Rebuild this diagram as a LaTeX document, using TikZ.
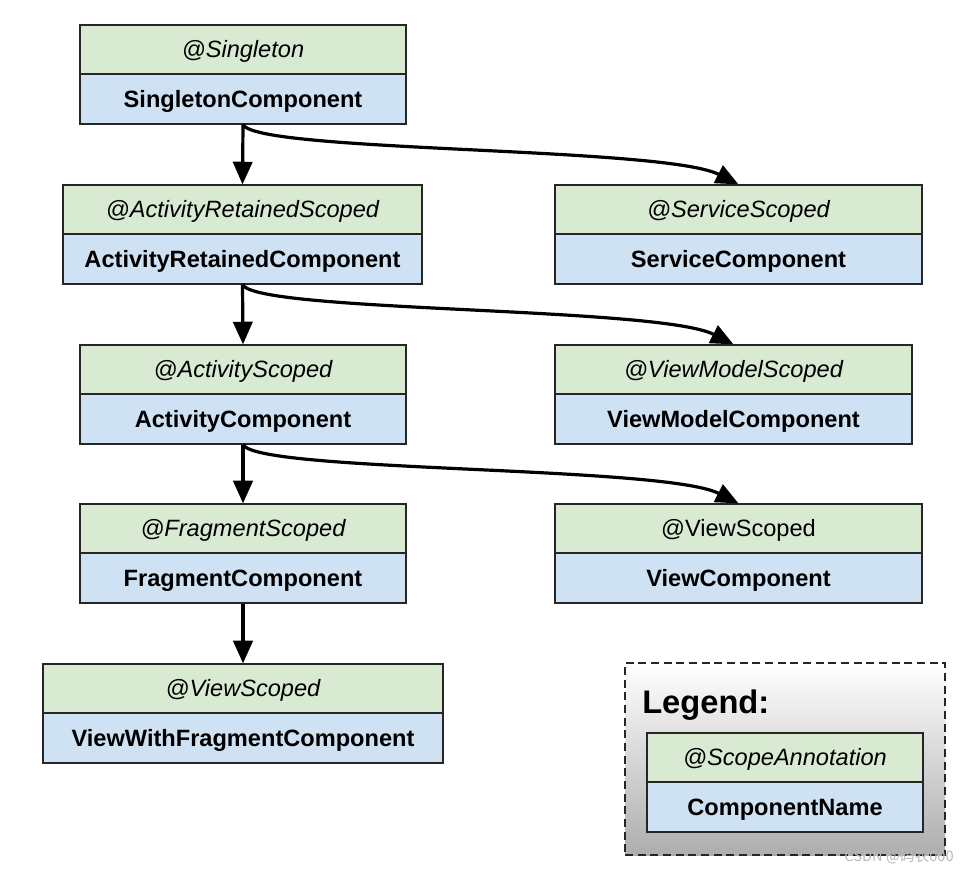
\documentclass[tikz,border=0pt]{standalone}
\usepackage{fontspec}
\setmainfont{Liberation Sans}
\newfontfamily\cjkfont{Noto Sans CJK SC}
\usetikzlibrary{arrows.meta}
\definecolor{scopegreen}{HTML}{D9EAD3}
\definecolor{compblue}{HTML}{CFE2F3}
\newcommand\mycomp[7]{%
  \node[scopebox, minimum width={(#3-#2)*0.75pt}] (#1S) at ({(#2+#3)/2}, #4+24.5) {#5#6};
  \node[compbox, minimum width={(#3-#2)*0.75pt}] (#1C) at ({(#2+#3)/2}, #4+74) {#7};
}
\begin{document}
\begin{tikzpicture}[x=0.75pt, y=-0.75pt,
  scopebox/.style={draw=black!85, line width=0.9pt, fill=scopegreen, inner sep=0pt,
    minimum height=36.75pt, text height=15.5pt, text depth=3pt,
    font=\fontsize{17.7pt}{20pt}\selectfont},
  compbox/.style={draw=black!85, line width=0.9pt, fill=compblue, inner sep=0pt,
    minimum height=37.5pt, text height=15.5pt, text depth=3pt,
    font=\fontsize{17.7pt}{20pt}\selectfont\bfseries},
  arr/.style={line width=2.4pt, -{Triangle[length=17pt,width=14.5pt]}},
  legendbox/.style={draw=black!85, line width=1pt, dash pattern=on 6pt off 3.5pt,
    top color=white, bottom color=black!32, inner sep=0pt}]
\useasboundingbox (0,0) rectangle (968,873);
% legend background
\node[legendbox, minimum width=240pt, minimum height=144pt] (legend) at (785,759) {};
\node[anchor=base west, inner sep=0pt, font=\fontsize{24.5pt}{28pt}\selectfont\bfseries] (legendtitle) at (642,713) {Legend:};
% components
\mycomp{sg}{80}{406}{25}{\itshape}{@Singleton}{SingletonComponent}
\mycomp{ar}{63}{422}{185}{\itshape}{@ActivityRetainedScoped}{ActivityRetainedComponent}
\mycomp{sv}{555}{922}{185}{\itshape}{@ServiceScoped}{ServiceComponent}
\mycomp{ac}{80}{406}{345}{\itshape}{@ActivityScoped}{ActivityComponent}
\mycomp{vm}{555}{912}{345}{\itshape}{@ViewModelScoped}{ViewModelComponent}
\mycomp{fr}{80}{406}{504}{\itshape}{@FragmentScoped}{FragmentComponent}
\mycomp{vw}{555}{922}{504}{}{@ViewScoped}{ViewComponent}
\mycomp{vf}{43}{443}{664}{\itshape}{@ViewScoped}{ViewWithFragmentComponent}
\mycomp{lg}{647}{923}{733}{\itshape}{@ScopeAnnotation}{ComponentName}
% connectors
\draw[arr] (sgC.south) -- (arS.north);
\draw[arr] (arC.south) -- (acS.north);
\draw[arr] (acC.south) -- (frS.north);
\draw[arr] (frC.south) -- (vfS.north);
\draw[arr] (sgC.south) .. controls +(14,28) and +(-75,-38) .. (svS.north);
\draw[arr] (arC.south) .. controls +(14,28) and +(-75,-38) .. (vmS.north);
\draw[arr] (acC.south) .. controls +(14,28) and +(-75,-38) .. (vwS.north);
% watermark
\node[anchor=east, inner sep=0pt, text=black!28, font=\cjkfont\fontsize{11pt}{13pt}\selectfont] (wm) at (954,857) {CSDN @码农000};
\end{tikzpicture}
\end{document}
